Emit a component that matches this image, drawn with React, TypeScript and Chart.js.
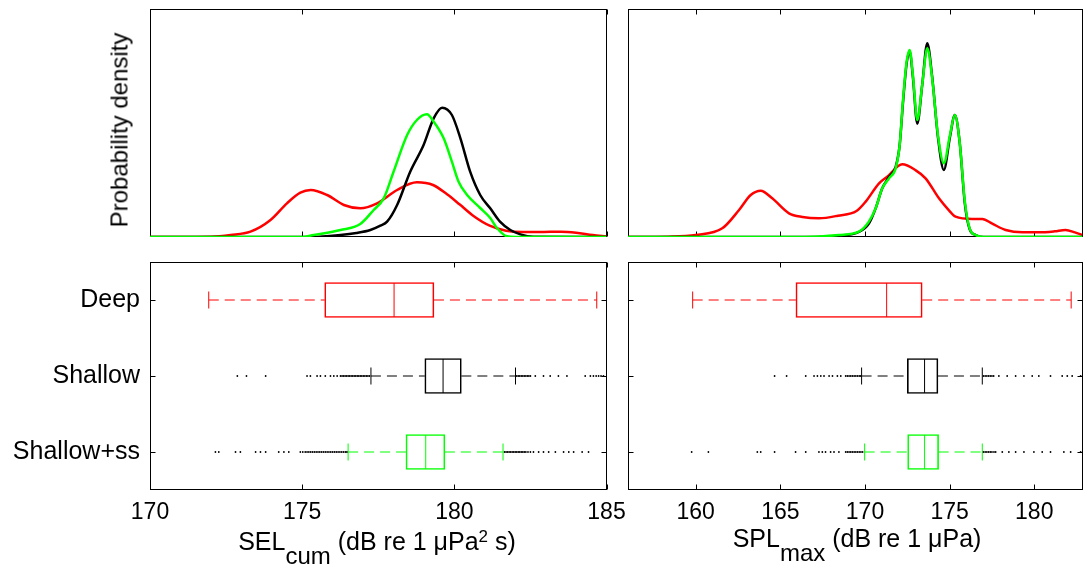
import React, { useEffect, useRef } from 'react';
import { Chart, registerables } from 'chart.js';

Chart.register(...registerables);

const FONT = "'Liberation Sans', Arial, Helvetica, sans-serif";

const groups = ['Deep', 'Shallow', 'Shallow+ss'];
const groupColors = ['#ff0000', '#000000', '#00ff00'];

// ---------- SEL_cum (dB re 1 uPa^2 s) ----------
const selTicks = [170, 175, 180, 185];

const selDeepX = [170, 172.0, 172.65, 173.3, 173.96, 174.5, 174.94, 175.28, 175.82, 176.37, 176.91, 177.46, 178.12, 178.77, 179.3, 179.76, 180.17, 180.63, 181.16, 181.7, 182.25, 182.8, 183.5, 184.0, 184.55, 185];
const selDeepY = [0, 0.001, 0.006, 0.016, 0.051, 0.101, 0.133, 0.141, 0.126, 0.096, 0.086, 0.101, 0.141, 0.164, 0.156, 0.128, 0.098, 0.063, 0.034, 0.019, 0.015, 0.015, 0.016, 0.013, 0.006, 0.002];

const selShallowX = [170, 175.3, 176.26, 176.78, 177.24, 177.57, 177.79, 178.12, 178.55, 178.99, 179.32, 179.6, 179.92, 180.2, 180.52, 180.85, 181.18, 181.5, 181.84, 182.17, 182.6, 185];
const selShallowY = [0, 0, 0.006, 0.012, 0.021, 0.034, 0.046, 0.096, 0.196, 0.276, 0.356, 0.388, 0.366, 0.296, 0.196, 0.126, 0.086, 0.046, 0.021, 0.008, 0.001, 0];

const selShallowSsX = [170, 175.0, 175.38, 176.26, 176.91, 177.35, 177.68, 178.0, 178.45, 178.77, 179.1, 179.32, 179.65, 179.92, 180.14, 180.42, 180.85, 181.18, 181.4, 181.73, 182, 185];
const selShallowSsY = [0, 0, 0.006, 0.021, 0.039, 0.081, 0.116, 0.195, 0.306, 0.351, 0.368, 0.346, 0.296, 0.226, 0.166, 0.126, 0.087, 0.057, 0.027, 0.002, 0, 0];

const selWhiskerLow = [171.93, 177.26, 176.51];
const selQ1 = [175.74, 179.03, 178.41];
const selMedian = [178.02, 179.63, 179.06];
const selQ3 = [179.33, 180.23, 179.69];
const selWhiskerHigh = [184.68, 182.01, 181.6];

const selDeepOut: number[] = [];
const selShallowOut = [172.87, 173.17, 173.8, 175.16, 175.27, 175.49, 175.6, 175.76, 175.93, 176.04, 176.15, 176.26, 176.31, 176.36, 176.41, 176.46, 176.51, 176.56, 176.61, 176.66, 176.71, 176.76, 176.81, 176.86, 176.91, 176.96, 177.01, 177.06, 177.11, 177.16, 177.21, 182.05, 182.1, 182.15, 182.2, 182.25, 182.3, 182.35, 182.4, 182.45, 182.5, 182.66, 182.93, 183.15, 183.42, 183.7, 184.3, 184.47, 184.57, 184.66, 184.74, 184.82, 184.9];
const selShallowSsOut = [172.15, 172.26, 172.81, 172.97, 173.47, 173.63, 173.8, 174.23, 174.4, 174.56, 174.94, 175.02, 175.1, 175.16, 175.22, 175.28, 175.34, 175.4, 175.46, 175.52, 175.58, 175.64, 175.7, 175.76, 175.82, 175.88, 175.94, 176.0, 176.06, 176.12, 176.18, 176.24, 176.3, 176.36, 176.42, 176.47, 181.65, 181.7, 181.75, 181.8, 181.85, 181.9, 181.95, 182.0, 182.05, 182.1, 182.15, 182.2, 182.25, 182.3, 182.35, 182.42, 182.5, 182.6, 182.77, 182.93, 183.1, 183.32, 183.59, 183.76, 183.92, 184.2, 184.41];

// ---------- SPL_max (dB re 1 uPa) ----------
const splTicks = [160, 165, 170, 175, 180];

const splDeepX = [156, 158.4, 160, 161.57, 162.56, 163.25, 163.84, 164.52, 165.51, 166.3, 167.28, 168.4, 169.5, 170.04, 170.83, 171.3, 172.2, 173.0, 173.58, 174.37, 174.96, 175.35, 176.34, 176.93, 177.52, 178.31, 179.3, 180.27, 181.2, 181.85, 182.4, 182.85];
const splDeepY = [0, 0.0005, 0.003, 0.013, 0.0405, 0.063, 0.0695, 0.058, 0.0355, 0.03, 0.028, 0.032, 0.039, 0.053, 0.0805, 0.09, 0.109, 0.1, 0.088, 0.058, 0.04, 0.0305, 0.027, 0.027, 0.02, 0.0105, 0.007, 0.007, 0.0085, 0.0105, 0.007, 0.003];

const splShallowX = [156, 166.5, 168.46, 169.64, 170.23, 170.63, 171.02, 171.42, 171.81, 172.05, 172.24, 172.46, 172.64, 172.83, 173.09, 173.38, 173.68, 173.97, 174.31, 174.66, 175.02, 175.31, 175.59, 175.9, 176.18, 176.54, 177, 182.85];
const splShallowY = [0, 0, 0.002, 0.0075, 0.02, 0.043, 0.073, 0.09, 0.105, 0.138, 0.2, 0.26, 0.278, 0.24, 0.17, 0.228, 0.2905, 0.24, 0.15, 0.1005, 0.15, 0.183, 0.143, 0.05, 0.012, 0.003, 0, 0];

const splShallowSsX = [156, 166.5, 168.46, 169.64, 170.23, 170.63, 171.02, 171.42, 171.81, 172.05, 172.24, 172.46, 172.64, 172.83, 173.09, 173.38, 173.68, 173.97, 174.31, 174.66, 175.02, 175.31, 175.59, 175.9, 176.18, 176.54, 177, 182.85];
const splShallowSsY = [0, 0, 0.003, 0.008, 0.023, 0.043, 0.073, 0.088, 0.103, 0.138, 0.203, 0.263, 0.2805, 0.243, 0.1755, 0.228, 0.283, 0.238, 0.153, 0.1105, 0.153, 0.183, 0.143, 0.053, 0.013, 0.003, 0, 0];

const splWhiskerLow = [159.82, 169.8, 169.98];
const splQ1 = [165.92, 172.5, 172.52];
const splMedian = [171.28, 173.52, 173.52];
const splQ3 = [173.38, 174.31, 174.35];
const splWhiskerHigh = [182.18, 176.93, 176.93];

const splDeepOut: number[] = [];
const splShallowOut = [164.66, 165.37, 166.5, 166.99, 167.19, 167.39, 167.58, 167.88, 168.08, 168.37, 168.57, 168.86, 168.96, 169.06, 169.16, 169.26, 169.36, 169.46, 169.56, 169.66, 169.75, 177.0, 177.1, 177.2, 177.3, 177.4, 177.5, 177.6, 177.91, 178.4, 178.9, 179.39, 179.88, 180.27, 180.96, 181.65, 181.95, 182.24, 182.74];
const splShallowSsOut = [159.76, 160.75, 163.64, 163.84, 164.66, 165.9, 166.5, 167.28, 167.48, 167.67, 167.97, 168.17, 168.46, 168.86, 168.96, 169.06, 169.16, 169.26, 169.36, 169.46, 169.56, 169.66, 169.76, 169.86, 177.0, 177.1, 177.2, 177.3, 177.4, 177.5, 177.62, 177.72, 178.11, 178.5, 178.9, 179.39, 179.98, 180.47, 180.96, 181.75, 182.15, 182.74];

// ---------- drawing helpers ----------
const TICK_FONT = { family: FONT, size: 23 };
const LABEL_FONT = { family: FONT, size: 25 };
const TICK_LEN = 5;

// Box frame with inward ticks (x ticks top and bottom, category ticks left and right)
function framePlugin(xTicks: number[], categoryTicks: boolean) {
  return {
    id: 'frame',
    beforeDatasetsDraw(chart: any) {
      const { ctx, chartArea: a, scales } = chart;
      const L = Math.round(a.left) + 0.5;
      const R = Math.round(a.right) - 0.5;
      const T = Math.round(a.top) + 0.5;
      const B = Math.round(a.bottom) - 0.5;
      ctx.save();
      ctx.strokeStyle = '#000';
      ctx.lineWidth = 1;
      ctx.strokeRect(L, T, R - L, B - T);
      ctx.beginPath();
      xTicks.forEach((v) => {
        const px = Math.round(scales.x.getPixelForValue(v)) + 0.5;
        ctx.moveTo(px, B);
        ctx.lineTo(px, B - TICK_LEN);
        ctx.moveTo(px, T);
        ctx.lineTo(px, T + TICK_LEN);
      });
      if (categoryTicks) {
        groups.forEach((_g, i) => {
          const py = Math.round(scales.y.getPixelForValue(i)) + 0.5;
          ctx.moveTo(L, py);
          ctx.lineTo(L + TICK_LEN, py);
          ctx.moveTo(R, py);
          ctx.lineTo(R - TICK_LEN, py);
        });
      }
      ctx.stroke();
      ctx.restore();
    },
  };
}

type Curve = { x: number[]; y: number[]; color: string };

function densityConfig(curves: Curve[], xMin: number, xMax: number, yMax: number, ticks: number[], padding: any) {
  return {
    type: 'line',
    data: {
      datasets: curves.map((c) => ({
        data: c.x.map((x, i) => ({ x, y: c.y[i] })),
        borderColor: c.color,
        borderWidth: 2.5,
        pointRadius: 0,
        cubicInterpolationMode: 'monotone',
        fill: false,
      })),
    },
    options: {
      animation: false,
      responsive: false,
      events: [],
      layout: { padding },
      plugins: { legend: { display: false }, tooltip: { enabled: false } },
      scales: {
        x: { type: 'linear', min: xMin, max: xMax, display: false, ticks: { display: false }, grid: { display: false } },
        y: { type: 'linear', min: 0, max: yMax, display: false, ticks: { display: false }, grid: { display: false } },
      },
    },
    plugins: [framePlugin(ticks, false)],
  };
}

type BoxStats = { lo: number[]; q1: number[]; med: number[]; q3: number[]; hi: number[] };

function boxConfig(s: BoxStats, outliers: number[][], xMin: number, xMax: number, ticks: number[], showLabels: boolean, padding: any) {
  const datasets: any[] = [];

  outliers.forEach((vals, i) => {
    datasets.push({
      type: 'scatter',
      data: vals.map((v) => ({ x: v, y: groups[i] })),
      pointStyle: 'circle',
      pointRadius: 0.9,
      pointBorderWidth: 0,
      pointBackgroundColor: '#000',
    });
  });

  datasets.push({
    type: 'scatter',
    data: groups.map((g, i) => ({ x: s.med[i], y: g })),
    pointStyle: 'line',
    pointRotation: 90,
    pointRadius: 17,
    pointBorderWidth: 1,
    pointBorderColor: groupColors,
  });

  datasets.push({
    type: 'scatter',
    data: groups.flatMap((g, i) => [{ x: s.lo[i], y: g }, { x: s.hi[i], y: g }]),
    pointStyle: 'line',
    pointRotation: 90,
    pointRadius: 8.5,
    pointBorderWidth: 1,
    pointBorderColor: groupColors.flatMap((c) => [c, c]),
  });

  groups.forEach((g, i) => {
    [[s.lo[i], s.q1[i]], [s.q3[i], s.hi[i]]].forEach(([a, b]) => {
      datasets.push({
        type: 'line',
        data: [{ x: a, y: g }, { x: b, y: g }],
        borderColor: groupColors[i],
        borderWidth: 1,
        borderDash: [10, 6],
        pointRadius: 0,
        fill: false,
      });
    });
  });

  datasets.push({
    type: 'bar',
    data: groups.map((_g, i) => [s.q1[i], s.q3[i]]),
    backgroundColor: 'rgba(0,0,0,0)',
    borderColor: groupColors,
    borderWidth: 1,
    borderSkipped: false,
    barThickness: 35,
    grouped: false,
  });

  return {
    type: 'bar',
    data: { labels: groups, datasets },
    options: {
      animation: false,
      responsive: false,
      events: [],
      indexAxis: 'y',
      layout: { padding },
      plugins: { legend: { display: false }, tooltip: { enabled: false } },
      scales: {
        x: {
          type: 'linear',
          min: xMin,
          max: xMax,
          afterBuildTicks: (axis: any) => {
            axis.ticks = ticks.map((v) => ({ value: v }));
          },
          afterFit: (axis: any) => {
            axis.height = 86;
          },
          ticks: { font: TICK_FONT, color: '#000', padding: 9, maxRotation: 0, autoSkip: false },
          grid: { display: false, drawTicks: false },
          border: { display: false },
        },
        y: {
          type: 'category',
          labels: groups,
          offset: true,
          display: showLabels,
          afterFit: (axis: any) => {
            axis.width = showLabels ? 150 : 0;
          },
          ticks: { font: LABEL_FONT, color: '#000', padding: 10, display: showLabels },
          grid: { display: false, drawTicks: false },
          border: { display: false },
        },
      },
    },
    plugins: [framePlugin(ticks, true)],
  };
}

function ChartCanvas({ build, left, top, width, height }: { build: () => any; left: number; top: number; width: number; height: number }) {
  const ref = useRef<HTMLCanvasElement>(null);
  useEffect(() => {
    const chart = new Chart(ref.current as HTMLCanvasElement, build());
    return () => chart.destroy();
  }, []);
  return <canvas ref={ref} width={width} height={height} style={{ position: 'absolute', left, top, width, height }} />;
}

const selStats: BoxStats = { lo: selWhiskerLow, q1: selQ1, med: selMedian, q3: selQ3, hi: selWhiskerHigh };
const splStats: BoxStats = { lo: splWhiskerLow, q1: splQ1, med: splMedian, q3: splQ3, hi: splWhiskerHigh };

export default function App() {
  const text: React.CSSProperties = { position: 'absolute', whiteSpace: 'nowrap', fontFamily: FONT, color: '#000', fontSize: 25, lineHeight: '23px' };
  const sub: React.CSSProperties = { position: 'relative', top: 14, fontSize: 24 };
  const sup: React.CSSProperties = { position: 'relative', top: -8, fontSize: 17 };
  return (
    <div style={{ position: 'fixed', left: 0, top: 0, width: 1083, height: 576, background: '#fff', overflow: 'hidden' }}>
      <ChartCanvas
        left={0}
        top={0}
        width={620}
        height={250}
        build={() =>
          densityConfig(
            [
              { x: selShallowSsX, y: selShallowSsY, color: '#00ff00' },
              { x: selShallowX, y: selShallowY, color: '#000000' },
              { x: selDeepX, y: selDeepY, color: '#ff0000' },
            ],
            170, 185, 0.684, selTicks,
            { left: 150, top: 9, right: 13.5, bottom: 13 }
          )
        }
      />
      <ChartCanvas
        left={620}
        top={0}
        width={463}
        height={250}
        build={() =>
          densityConfig(
            [
              { x: splShallowSsX, y: splShallowSsY, color: '#00ff00' },
              { x: splShallowX, y: splShallowY, color: '#000000' },
              { x: splDeepX, y: splDeepY, color: '#ff0000' },
            ],
            156, 182.85, 0.342, splTicks,
            { left: 8, top: 9, right: 0.5, bottom: 13 }
          )
        }
      />
      <ChartCanvas
        left={0}
        top={232}
        width={640}
        height={344}
        build={() => boxConfig(selStats, [selDeepOut, selShallowOut, selShallowSsOut], 170, 185, selTicks, true, { left: 0, top: 30, right: 33.5, bottom: 0 })}
      />
      <ChartCanvas
        left={588}
        top={232}
        width={535}
        height={344}
        build={() => boxConfig(splStats, [splDeepOut, splShallowOut, splShallowSsOut], 156, 182.85, splTicks, false, { left: 40, top: 30, right: 40.5, bottom: 0 })}
      />
      <div style={{ ...text, fontSize: 24, left: 119, top: 130, transform: 'translate(-50%, -50%) rotate(-90deg)' }}>Probability density</div>
      <div style={{ ...text, left: 377, top: 530, transform: 'translateX(-50%)' }}>
        SEL<span style={sub}>cum</span> (dB re 1 μPa<span style={sup}>2</span> s)
      </div>
      <div style={{ ...text, left: 857, top: 527, transform: 'translateX(-50%)' }}>
        SPL<span style={sub}>max</span> (dB re 1 μPa)
      </div>
    </div>
  );
}
